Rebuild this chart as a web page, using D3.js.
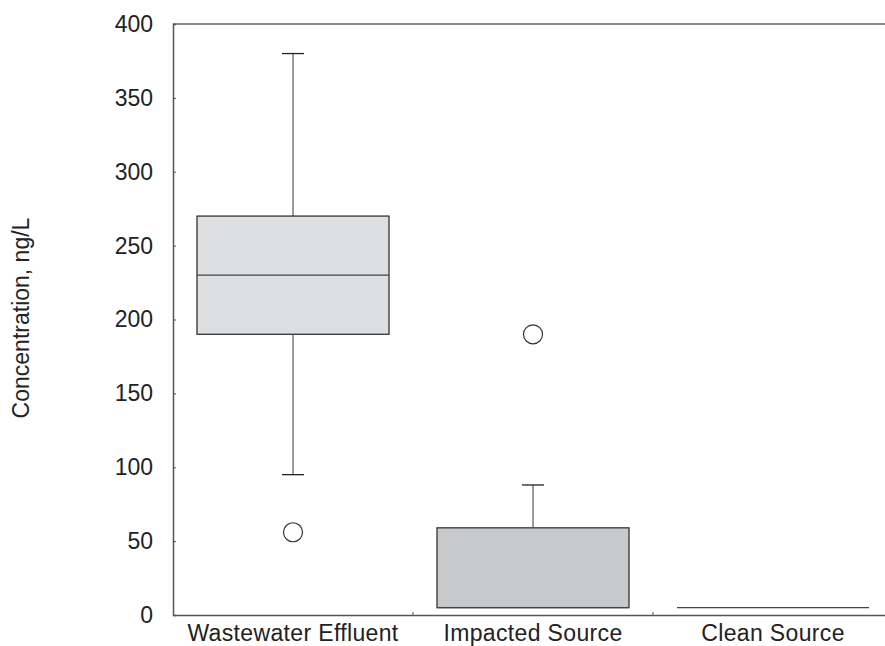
<!DOCTYPE html>
<html><head><meta charset="utf-8">
<script src="https://cdn.jsdelivr.net/npm/d3@7"></script>
<style>body{margin:0;background:#fff}svg{display:block}text{font-family:"Liberation Sans",Arial,sans-serif;fill:#222}</style>
</head><body><svg id="c" width="885" height="646"></svg>
<script>
const categories = ["Wastewater Effluent", "Impacted Source", "Clean Source"];
const q1 = [190, 5, 5];
const median = [230, 5, 5];
const q3 = [270, 59, 5];
const whiskerLow = [95, 5, 5];
const whiskerHigh = [380, 88, 5];
const outliers = [[56], [190], []];
const yTicks = [0, 50, 100, 150, 200, 250, 300, 350, 400];
const fills = ["#dedfe1", "#c8c9cb", "none"];

const svg = d3.select("#c");
const mL = 173, mR = 893, mT = 24, mB = 615;
const x = d3.scaleBand().domain(categories).range([mL, mR]).padding(0);
const y = d3.scaleLinear().domain([0, 400]).range([mB, mT]);

svg.append("line").attr("x1", mL).attr("x2", 885).attr("y1", mT).attr("y2", mT)
  .attr("stroke", "#666").attr("stroke-width", 1.5);

const yAxis = svg.append("g").attr("transform", `translate(${mL},0)`)
  .call(d3.axisLeft(y).tickValues(yTicks).tickSize(-3).tickPadding(20).tickFormat(d3.format("d")));
yAxis.select(".domain").attr("stroke", "#555").attr("stroke-width", 1.5);
yAxis.selectAll(".tick line").attr("stroke", "#555");
yAxis.selectAll("text").style("font-size", "23px").attr("fill", "#222");

const xAxis = svg.append("g").attr("transform", `translate(0,${mB})`)
  .call(d3.axisBottom(x).tickSize(0).tickPadding(0));
xAxis.select(".domain").attr("stroke", "#555").attr("stroke-width", 1.5);
xAxis.selectAll("text").style("font-size", "23px").style("letter-spacing", "0.35px")
  .attr("fill", "#222").attr("y", 26).attr("dy", null);
svg.append("g").selectAll("line").data(categories.slice(1)).join("line")
  .attr("x1", d => x(d)).attr("x2", d => x(d)).attr("y1", mB - 3).attr("y2", mB)
  .attr("stroke", "#555");

svg.append("text").attr("transform", `translate(29,318) rotate(-90)`)
  .attr("text-anchor", "middle").style("font-size", "23px").text("Concentration, ng/L");

const bw = x.bandwidth() * 0.8;
const capW = 22;
categories.forEach((c, i) => {
  const cx = x(c) + x.bandwidth() / 2;
  const g = svg.append("g");
  if (whiskerHigh[i] > q3[i]) {
    g.append("line").attr("x1", cx).attr("x2", cx).attr("y1", y(q3[i])).attr("y2", y(whiskerHigh[i]))
      .attr("stroke", "#7a7a7a").attr("stroke-width", 1.5);
    g.append("line").attr("x1", cx - capW / 2).attr("x2", cx + capW / 2).attr("y1", y(whiskerHigh[i])).attr("y2", y(whiskerHigh[i]))
      .attr("stroke", "#222").attr("stroke-width", 1.3);
  }
  if (whiskerLow[i] < q1[i]) {
    g.append("line").attr("x1", cx).attr("x2", cx).attr("y1", y(q1[i])).attr("y2", y(whiskerLow[i]))
      .attr("stroke", "#7a7a7a").attr("stroke-width", 1.5);
    g.append("line").attr("x1", cx - capW / 2).attr("x2", cx + capW / 2).attr("y1", y(whiskerLow[i])).attr("y2", y(whiskerLow[i]))
      .attr("stroke", "#222").attr("stroke-width", 1.3);
  }
  g.append("rect").attr("x", cx - bw / 2).attr("width", bw)
    .attr("y", y(q3[i])).attr("height", y(q1[i]) - y(q3[i]))
    .attr("fill", fills[i]).attr("stroke", "#333").attr("stroke-width", 1.3);
  g.append("line").attr("x1", cx - bw / 2).attr("x2", cx + bw / 2).attr("y1", y(median[i])).attr("y2", y(median[i]))
    .attr("stroke", "#444").attr("stroke-width", 1.3);
  g.selectAll("circle").data(outliers[i]).join("circle")
    .attr("cx", cx).attr("cy", d => y(d)).attr("r", 9.5)
    .attr("fill", "#fff").attr("stroke", "#333").attr("stroke-width", 1.2);
});
</script></body></html>
